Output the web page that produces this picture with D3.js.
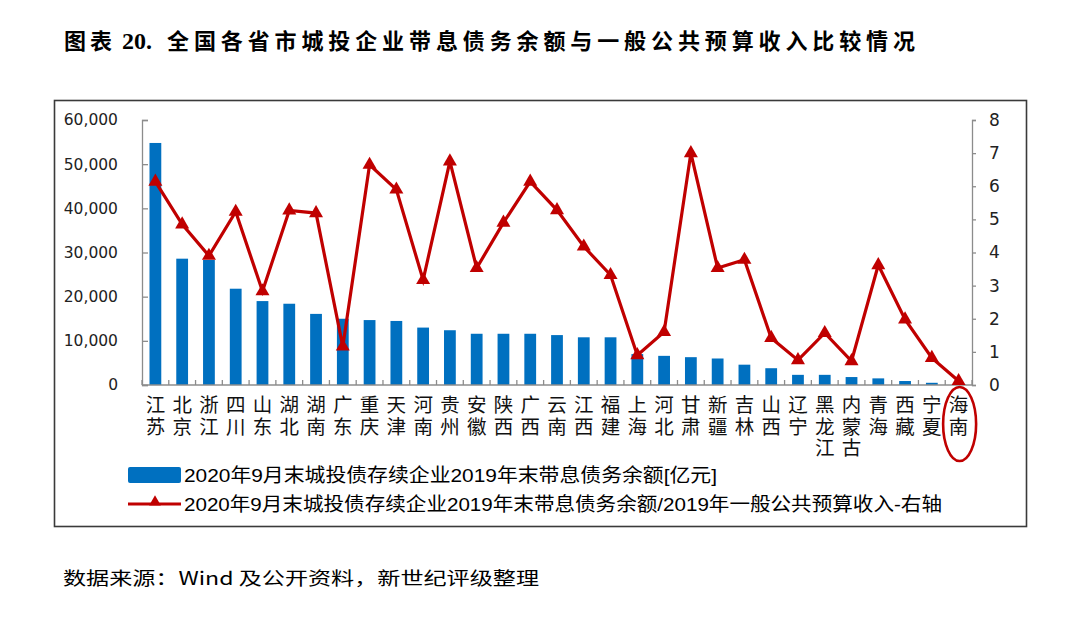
<!DOCTYPE html>
<html>
<head>
<meta charset="utf-8">
<script src="https://cdn.jsdelivr.net/npm/d3@7"></script>
<style>
  html, body { margin: 0; padding: 0; background: #fff; }
  svg { display: block; }
  .vlab { writing-mode: vertical-rl; text-orientation: upright; }
</style>
</head>
<body>
<svg id="chart" width="1080" height="618"></svg>
<script>
// ---------- DATA ----------
const provinces = ["江苏","北京","浙江","四川","山东","湖北","湖南","广东","重庆","天津","河南","贵州","安徽","陕西","广西","云南","江西","福建","上海","河北","甘肃","新疆","吉林","山西","辽宁","黑龙江","内蒙古","青海","西藏","宁夏","海南"];
const debtBalance = [54800,28600,28300,21800,19000,18400,16100,15000,14700,14500,13000,12400,11600,11600,11600,11300,10800,10800,7000,6600,6300,6000,4600,3800,2300,2300,1800,1500,900,500,100];
const debtToRevenue = [6.14,4.85,3.9,5.23,2.83,5.27,5.19,1.16,6.65,5.9,3.17,6.75,3.53,4.9,6.14,5.28,4.18,3.32,0.9,1.6,7.0,3.53,3.78,1.42,0.75,1.57,0.72,3.62,1.98,0.82,0.12];
const leftTicks = [0,10000,20000,30000,40000,50000,60000];
const rightTicks = [0,1,2,3,4,5,6,7,8];
const titleLabel = "图表";
const titleNumber = "20.";
const titleText = "全国各省市城投企业带息债务余额与一般公共预算收入比较情况";
const legendBar = "2020年9月末城投债存续企业2019年末带息债务余额[亿元]";
const legendLine = "2020年9月末城投债存续企业2019年末带息债务余额/2019年一般公共预算收入-右轴";
const sourceText = "数据来源：Wind 及公开资料，新世纪评级整理";

// ---------- STYLE ----------
const BLUE = "#0070C0", RED = "#C00000", AXIS = "#8c8c8c";
const CJK = "'Noto Sans CJK SC', 'Noto Sans', sans-serif";

const svg = d3.select("#chart");
svg.append("rect").attr("width",1080).attr("height",618).attr("fill","#fff");

// Title
const tg = svg.append("g").attr("font-weight","bold").attr("fill","#000");
tg.append("text").attr("x",64).attr("y",48.5).attr("font-family",CJK).attr("font-size",22)
  .attr("letter-spacing",4).text(titleLabel);
tg.append("text").attr("x",122).attr("y",48.5).attr("font-family","'Liberation Serif', serif").attr("font-size",24)
  .text(titleNumber);
tg.append("text").attr("x",167).attr("y",48.5).attr("font-family",CJK).attr("font-size",22)
  .attr("textLength",748).attr("lengthAdjust","spacing").text(titleText);

// Frame
svg.append("rect").attr("x",54.5).attr("y",100.5).attr("width",972).attr("height",426)
  .attr("fill","none").attr("stroke","#3a3a3a").attr("stroke-width",1.6);

// Scales
const x = d3.scaleBand().domain(provinces).range([142,972]).paddingInner(0.56).paddingOuter(0.28);
const yL = d3.scaleLinear().domain([0,60000]).range([385,120]);
const yR = d3.scaleLinear().domain([0,8]).range([385,120]);

// Bars
svg.append("g").selectAll("rect").data(provinces).join("rect")
  .attr("x",d=>x(d)).attr("width",x.bandwidth())
  .attr("y",(d,i)=>yL(debtBalance[i]))
  .attr("height",(d,i)=>yL(0)-yL(debtBalance[i]))
  .attr("fill",BLUE);

// Left axis
const gL = svg.append("g").attr("transform","translate(142,0)")
  .call(d3.axisLeft(yL).tickValues(leftTicks).tickSize(-6).tickPadding(24).tickFormat(d3.format(",")));
gL.select(".domain").attr("stroke",AXIS).attr("stroke-width",1.3);
gL.selectAll(".tick line").attr("stroke",AXIS).attr("stroke-width",1.3);
gL.selectAll(".tick text").attr("font-family","'DejaVu Sans', sans-serif").attr("font-size",15.5).attr("fill","#222");

// Right axis
const gR = svg.append("g").attr("transform","translate(972,0)")
  .call(d3.axisRight(yR).tickValues(rightTicks).tickSize(4).tickPadding(13).tickFormat(d3.format("d")));
gR.select(".domain").attr("stroke",AXIS).attr("stroke-width",1.3);
gR.selectAll(".tick line").attr("stroke",AXIS).attr("stroke-width",1.3);
gR.selectAll(".tick text").attr("font-family","'DejaVu Sans', sans-serif").attr("font-size",17).attr("fill","#222");

// Bottom axis line + ticks at category boundaries
const gB = svg.append("g");
gB.append("line").attr("x1",142).attr("x2",972).attr("y1",385).attr("y2",385)
  .attr("stroke",AXIS).attr("stroke-width",1.3);
const bounds = provinces.map(p => x(p) - x.step()*x.paddingInner()/2).concat([972]);
gB.selectAll("line.tk").data(bounds).join("line").attr("class","tk")
  .attr("x1",d=>d).attr("x2",d=>d).attr("y1",380).attr("y2",385)
  .attr("stroke",AXIS).attr("stroke-width",1.3);

// Category labels (vertical text, one element per label)
svg.append("g").attr("font-family",CJK).attr("font-size",19.5).attr("fill","#111")
  .selectAll("text").data(provinces).join("text")
  .attr("class","vlab")
  .attr("x",d=>x(d)+x.bandwidth()/2).attr("y",395)
  .attr("letter-spacing",2)
  .text(d=>d);

// Line
const line = d3.line().x((d,i)=>x(provinces[i])+x.bandwidth()/2).y(d=>yR(d));
svg.append("path").datum(debtToRevenue).attr("d",line)
  .attr("fill","none").attr("stroke",RED).attr("stroke-width",3.2).attr("stroke-linejoin","miter");
const tri = d3.symbol().type(d3.symbolTriangle).size(85);
svg.append("g").selectAll("path").data(debtToRevenue).join("path")
  .attr("d",tri)
  .attr("transform",(d,i)=>`translate(${x(provinces[i])+x.bandwidth()/2},${yR(d)})`)
  .attr("fill",RED);

// Highlight ellipse around last category
const last = provinces[provinces.length-1];
svg.append("ellipse").attr("cx",x(last)+x.bandwidth()/2+1).attr("cy",424).attr("rx",16.5).attr("ry",37)
  .attr("fill","none").attr("stroke",RED).attr("stroke-width",2.6);

// Legend
const lg = svg.append("g").attr("font-family","'Liberation Sans Narrow','Liberation Sans',"+CJK).attr("font-size",19).attr("fill","#000");
lg.append("rect").attr("x",128).attr("y",467).attr("width",53).attr("height",16).attr("rx",2).attr("fill",BLUE);
lg.append("text").attr("x",184).attr("y",475.5).attr("dominant-baseline","central")
  .attr("textLength",533).attr("lengthAdjust","spacingAndGlyphs").text(legendBar);
lg.append("line").attr("x1",128).attr("x2",181).attr("y1",504).attr("y2",504)
  .attr("stroke",RED).attr("stroke-width",3);
lg.append("path").attr("d",d3.symbol().type(d3.symbolTriangle).size(60)()).attr("transform","translate(155,502)").attr("fill",RED);
lg.append("text").attr("x",184).attr("y",504.5).attr("dominant-baseline","central")
  .attr("textLength",758).attr("lengthAdjust","spacingAndGlyphs").text(legendLine);

// Source
svg.append("text").attr("x",63).attr("y",577).attr("dominant-baseline","central")
  .attr("font-family",CJK).attr("font-size",18).attr("fill","#000")
  .attr("textLength",476).attr("lengthAdjust","spacingAndGlyphs").text(sourceText);
</script>
</body>
</html>
